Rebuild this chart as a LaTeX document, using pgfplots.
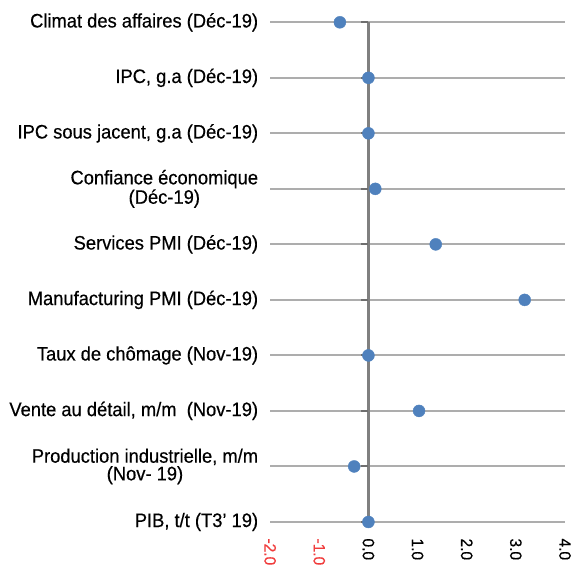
\documentclass[border=0pt]{standalone}
\usepackage{pgfplots}
\pgfplotsset{compat=1.18}
\usetikzlibrary{calc}
\usepackage{fontspec}
\setmainfont[FakeStretch=0.94, FakeBold=0.4]{Liberation Sans}
\definecolor{dotblue}{HTML}{4F81BD}
\definecolor{gridgray}{HTML}{ADADAD}
\definecolor{axgray}{HTML}{808080}
\definecolor{tickgray}{HTML}{6E6E6E}
\definecolor{negred}{HTML}{F03C3C}

\begin{document}
\begin{tikzpicture}
\begin{axis}[
    scale only axis,
    width=294.7bp, height=499.4bp,
    xmin=-2, xmax=4,
    ymin=1, ymax=10,
    clip=false,
    axis line style={draw=none},
    tick style={draw=none},
    major tick length=0pt,
    xtick={-2,-1,0,1,2,3,4},
    xticklabels={{\color{negred}-2.0},{\color{negred}-1.0},0.0,1.0,2.0,3.0,4.0},
    xticklabel style={rotate=-90, anchor=west, font=\fontsize{16.5bp}{16.5bp}\selectfont},
    xticklabel shift=13bp,
    ytick={1,...,10},
    yticklabels={
        {PIB, t/t (T3' 19)},
        {Production industrielle, m/m\\(Nov- 19)},
        {Vente au détail, m/m\ \ (Nov-19)},
        {Taux de chômage (Nov-19)},
        {Manufacturing PMI (Déc-19)},
        {Services PMI (Déc-19)},
        {Confiance économique\\(Déc-19)},
        {IPC sous jacent, g.a (Déc-19)},
        {IPC, g.a (Déc-19)},
        {Climat des affaires (Déc-19)}
    },
    yticklabel style={align=center, font=\fontsize{19.5bp}{16.5bp}\selectfont},
    yticklabel shift=8.5bp,
    ymajorgrids,
    grid style={gridgray, line width=2bp},
]
\coordinate (sw) at (rel axis cs:0,0);
\coordinate (ne) at (rel axis cs:1,1);

% axe vertical en 0
\addplot[axgray, line width=2.5bp] coordinates {(0,1) (0,10)};
% petites graduations
\addplot[only marks, mark=-, mark size=3.5bp,
    mark options={xshift=-3.5bp, line width=2bp, tickgray}]
    coordinates {(0,1) (0,2) (0,3) (0,4) (0,5) (0,6) (0,7) (0,8) (0,9) (0,10)};

% valeurs
\addplot[only marks, mark=*, mark size=6bp,
    mark options={fill=dotblue, draw=dotblue}]
    coordinates {
        (0,1)
        (-0.29,2)
        (1.03,3)
        (0,4)
        (3.18,5)
        (1.37,6)
        (0.14,7)
        (0,8)
        (0,9)
        (-0.58,10)
    };
\end{axis}
\pgfresetboundingbox
\path ($(sw)+(-270bp,-48.3bp)$) rectangle ($(ne)+(17bp,22.3bp)$);
\end{tikzpicture}
\end{document}
